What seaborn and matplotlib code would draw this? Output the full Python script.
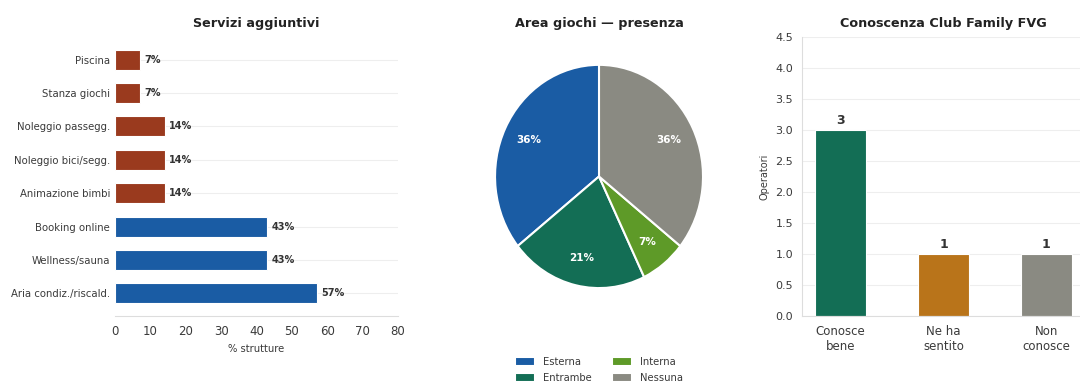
import matplotlib
matplotlib.use("Agg")
import matplotlib.pyplot as plt
import seaborn as sns
import pandas as pd

# --- data -------------------------------------------------------------
servizi = ["Piscina", "Stanza giochi", "Noleggio passegg.", "Noleggio bici/segg.",
           "Animazione bimbi", "Booking online", "Wellness/sauna", "Aria condiz./riscald."]
servizi_pct = [7, 7, 14, 14, 14, 43, 43, 57]
servizi_colori = ["#9a3a1e"] * 5 + ["#1a5ca4"] * 3

area_labels = ["Esterna", "Entrambe", "Interna", "Nessuna"]
area_counts = [5, 3, 1, 5]
area_colori = ["#1a5ca4", "#136e55", "#5e9a28", "#8a8a82"]

club_labels = ["Conosce\nbene", "Ne ha\nsentito", "Non\nconosce"]
club_counts = [3, 1, 1]
club_colori = ["#136e55", "#b9741a", "#8a8a82"]

# --- style ------------------------------------------------------------
sns.set_style("white")
plt.rcParams["font.family"] = ["DejaVu Sans"]
TXT = "#3a3a3a"
SPINE = "#dddddd"
GRID = "#eeeeee"

fig = plt.figure(figsize=(10.8, 3.83), dpi=100)
bottom, height = 0.175, 0.7285
ax1 = fig.add_axes([0.1065, bottom, 0.262, height])
ax2 = fig.add_axes([0.4343, bottom, 0.2407, height])
ax3 = fig.add_axes([0.7426, bottom, 0.262, height])

# --- horizontal bars: additional services -----------------------------
df_s = pd.DataFrame({"servizio": servizi, "pct": servizi_pct})
sns.barplot(data=df_s, x="pct", y="servizio", hue="servizio", palette=servizi_colori,
            legend=False, orient="h", width=0.6, edgecolor="white", linewidth=0.8,
            saturation=1, ax=ax1)
ax1.set_xlim(0, 80)
ax1.set_ylim(7.68, -0.68)
ax1.set_xticks(range(0, 81, 10))
ax1.set_ylabel("")
ax1.set_xlabel("% strutture", fontsize=7.2, color=TXT)
ax1.set_title("Servizi aggiuntivi", fontsize=9.2, fontweight="bold", color="#222222", pad=7)
ax1.tick_params(axis="x", labelsize=8.5, colors="#999999", labelcolor=TXT, length=3)
ax1.tick_params(axis="y", labelsize=7.3, labelcolor=TXT, length=0)
ax1.yaxis.grid(True, color=GRID, linewidth=0.8)
ax1.set_axisbelow(True)
for s in ["top", "right", "left"]:
    ax1.spines[s].set_visible(False)
ax1.spines["bottom"].set_color(SPINE)
for i, v in enumerate(servizi_pct):
    ax1.annotate(f"{v:.0f}%", xy=(v, i), xytext=(3, 0), textcoords="offset points",
                 va="center", ha="left", fontsize=7, fontweight="bold", color="#333333")

# --- pie: play area -------------------------------------------------
ax2.pie(area_counts, colors=area_colori, startangle=90, counterclock=True,
        autopct="%.0f%%", pctdistance=0.75,
        wedgeprops=dict(edgecolor="white", linewidth=1.5),
        textprops=dict(color="white", fontweight="bold", fontsize=7.5))
ax2.set_aspect("auto")
ax2.set_xlim(-1.25, 1.25)
ax2.set_ylim(-1.25, 1.25)
ax2.set_title("Area giochi — presenza", fontsize=9.2, fontweight="bold", color="#222222", pad=7)
ax2.legend(area_labels, loc="upper center", bbox_to_anchor=(0.5, -0.115), ncol=2,
           frameon=False, fontsize=7.2, labelcolor=TXT, handlelength=2.0,
           handleheight=1.0, labelspacing=0.55, columnspacing=2.0, handletextpad=0.8)

# --- vertical bars: Club Family awareness ---------------------------
df_c = pd.DataFrame({"risposta": club_labels, "n": club_counts})
sns.barplot(data=df_c, x="risposta", y="n", hue="risposta", palette=club_colori,
            legend=False, width=0.5, edgecolor="white", linewidth=0.8,
            saturation=1, ax=ax3)
ax3.set_xlim(-0.375, 2.375)
ax3.set_ylim(0, 4.5)
ax3.set_yticks([0, 0.5, 1, 1.5, 2, 2.5, 3, 3.5, 4, 4.5])
ax3.set_xlabel("")
ax3.set_ylabel("Operatori", fontsize=7, color=TXT)
ax3.set_title("Conoscenza Club Family FVG", fontsize=9.2, fontweight="bold", color="#222222", pad=7)
ax3.tick_params(axis="y", labelsize=8, colors="#999999", labelcolor=TXT, length=3)
ax3.tick_params(axis="x", labelsize=8.5, colors="#999999", labelcolor=TXT, length=3)
ax3.yaxis.grid(True, color=GRID, linewidth=0.8)
ax3.set_axisbelow(True)
for s in ["top", "right"]:
    ax3.spines[s].set_visible(False)
for s in ["left", "bottom"]:
    ax3.spines[s].set_color(SPINE)
for i, v in enumerate(club_counts):
    ax3.annotate(f"{v}", xy=(i, v), xytext=(0, 2), textcoords="offset points",
                 ha="center", va="bottom", fontsize=9, fontweight="bold", color="#333333")

fig.savefig("out.png", dpi=100)
